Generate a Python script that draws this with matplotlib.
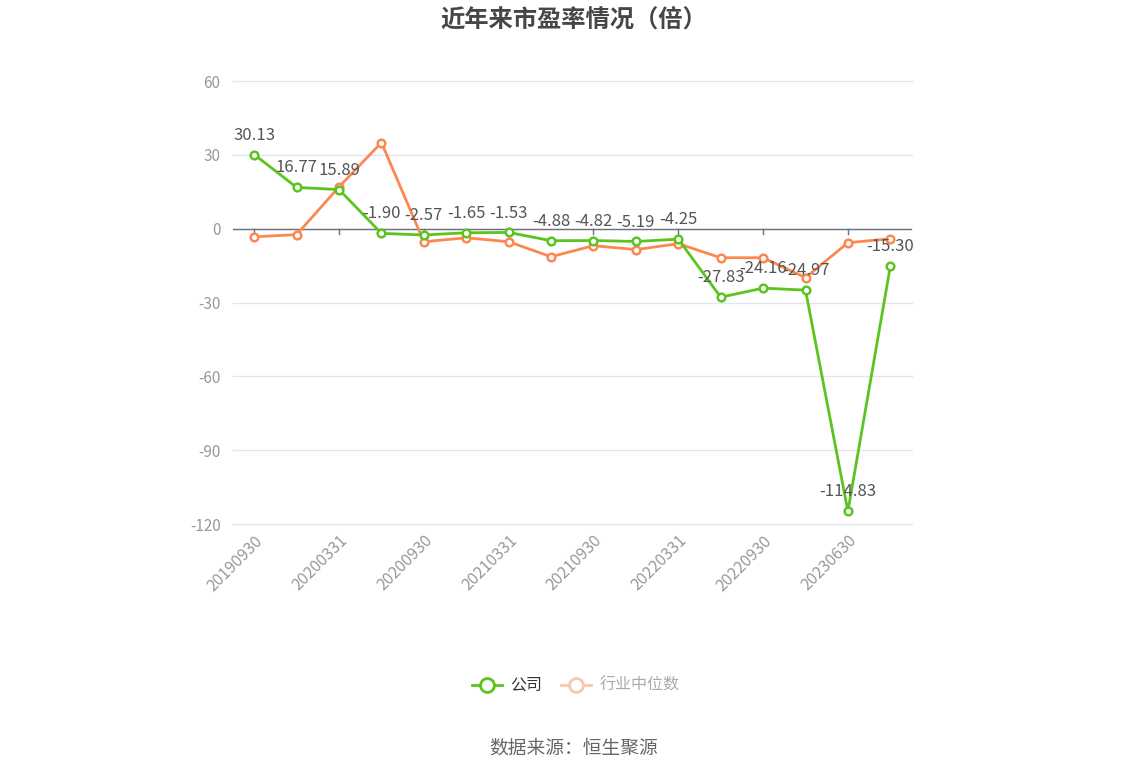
import numpy as np
import matplotlib
matplotlib.use('Agg')
import matplotlib.pyplot as plt

plt.rcParams['font.family'] = ['Noto Sans CJK SC', 'DejaVu Sans']

# report dates and P/E values
dates = ['20190930', '20191231', '20200331', '20200630', '20200930', '20201231',
         '20210331', '20210630', '20210930', '20211231', '20220331', '20220630',
         '20220930', '20221231', '20230630', '20230930']
company = [30.13, 16.77, 15.89, -1.90, -2.57, -1.65, -1.53, -4.88, -4.82, -5.19,
           -4.25, -27.83, -24.16, -24.97, -114.83, -15.30]
industry = [-3.3, -2.4, 17.0, 35.0, -5.3, -3.7, -5.3, -11.4, -6.9, -8.5,
            -6.1, -11.8, -11.8, -19.9, -5.7, -4.1]
yticks = [60, 30, 0, -30, -60, -90, -120]

green = '#5bc41f'
orange = '#fd8750'

fig = plt.figure(figsize=(11.48, 7.76), dpi=100)
ax = fig.add_axes([0.203, 0.3247, 0.591, 0.5709])

x = np.arange(len(dates))
ax.plot(x, industry, color=orange, lw=2, marker='o', ms=5.5, mfc='white',
        mec=orange, mew=1.8, zorder=3)
ax.plot(x, company, color=green, lw=2, marker='o', ms=5.5, mfc='white',
        mec=green, mew=1.8, zorder=4)

for xi, v in zip(x, company):
    ax.annotate(f'{v:.2f}', (xi, v), xytext=(0, 14), textcoords='offset points',
                ha='center', va='center', fontsize=12, color='#555555', zorder=5)

ax.set_xlim(-0.5, len(dates) - 0.5)
ax.set_ylim(-120, 60)
ax.set_yticks(yticks)
ax.set_yticklabels([str(t) for t in yticks], fontsize=11, color='#999999')
ax.tick_params(axis='y', length=0, pad=9)
ax.grid(axis='y', color='#e0e6f1', lw=1)
for gl in ax.get_ygridlines():
    gl.set_clip_on(False)
ax.set_axisbelow(True)
for s in ax.spines.values():
    s.set_visible(False)

# zero line with ticks hanging below it
ax.axhline(0, color='#6e7079', lw=1, zorder=2)
for xi in x[::2]:
    ax.plot([xi, xi], [0, -2.3], color='#6e7079', lw=1, zorder=2, clip_on=False)

ax.set_xticks(x[::2])
ax.set_xticklabels(dates[::2], rotation=45, ha='right', rotation_mode='anchor',
                   fontsize=11.5, color='#999999')
ax.tick_params(axis='x', length=0, pad=6)

fig.text(0.5, 0.973, '近年来市盈率情况（倍）', ha='center', va='center',
         fontsize=17.5, fontweight='bold', color='#464646')

# legend
ly = 1 - 685 / 776
fig.lines.append(plt.Line2D([0.411, 0.437], [ly, ly], transform=fig.transFigure,
                            color=green, lw=2))
fig.lines.append(plt.Line2D([0.424], [ly], transform=fig.transFigure, marker='o',
                            ms=10, mfc='white', mec=green, mew=2, ls='none'))
fig.text(0.444, ly, '公司', ha='left', va='center', fontsize=11.5, color='#333333')
fig.lines.append(plt.Line2D([0.489, 0.515], [ly, ly], transform=fig.transFigure,
                            color='#fcc4ad', lw=2))
fig.lines.append(plt.Line2D([0.502], [ly], transform=fig.transFigure, marker='o',
                            ms=10, mfc='white', mec='#fcc4ad', mew=2, ls='none'))
fig.text(0.522, ly, '行业中位数', ha='left', va='center', fontsize=11.5, color='#aaaaaa')

fig.text(0.5, 1 - 748 / 776, '数据来源：恒生聚源', ha='center', va='center',
         fontsize=13.5, color='#666666')

fig.savefig('out.png', dpi=100)
